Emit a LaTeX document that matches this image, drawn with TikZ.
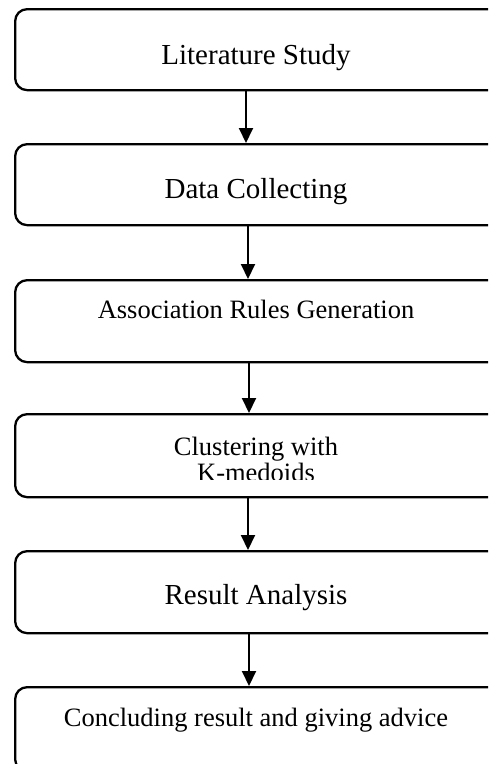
\documentclass[tikz,border=0pt]{standalone}
\usepackage{fontspec}
\setmainfont{Liberation Serif}
\usetikzlibrary{arrows.meta}
\begin{document}
\begin{tikzpicture}[x=1pt,y=-1pt,
  stagebox/.style={draw, line width=2.3pt, rounded corners=12pt,
    rectangle, minimum width=510pt, anchor=north west, inner sep=0pt},
  flow/.style={line width=2pt, -{Triangle[width=14pt,length=15pt]}},
  bigtext/.style={font=\fontsize{29}{33}\selectfont, anchor=base, inner sep=0pt},
  smalltext/.style={font=\fontsize{26.5}{26}\selectfont, anchor=base, inner sep=0pt, align=center}]
\useasboundingbox (0,0) rectangle (488,764);
\clip (0,0) rectangle (488,764);

% stage boxes (they run past the right and bottom edges of the page)
\node[stagebox, minimum height=81pt] (b1) at (14,8) {};
\node[stagebox, minimum height=81pt] (b2) at (14,143) {};
\node[stagebox, minimum height=82pt] (b3) at (14,279) {};
\node[stagebox, minimum height=83pt] (b4) at (14,413) {};
\node[stagebox, minimum height=82pt] (b5) at (14,550) {};
\node[stagebox, minimum height=84pt] (b6) at (14,686) {};

% stage labels
\node[bigtext] (t1) at (256,64) {Literature Study};
\node[bigtext] (t2) at (256,198) {Data Collecting};
\node[smalltext] (t3) at (256,318) {Association Rules Generation};
\begin{scope}
  \clip (0,0) rectangle (488,479);
  \node[smalltext] (t4) at (256,481) {Clustering with\\K-medoids};
\end{scope}
\node[bigtext] (t5) at (256,604) {Result Analysis};
\node[smalltext] (t6) at (256,726) {Concluding result and giving advice};

% flow between stages
\draw[flow] ([xshift=232pt]b1.south west) -- ([xshift=232pt]b2.north west);
\draw[flow] ([xshift=234pt]b2.south west) -- ([xshift=234pt]b3.north west);
\draw[flow] ([xshift=235pt]b3.south west) -- ([xshift=235pt]b4.north west);
\draw[flow] ([xshift=234pt]b4.south west) -- ([xshift=234pt]b5.north west);
\draw[flow] ([xshift=235pt]b5.south west) -- ([xshift=235pt]b6.north west);
\end{tikzpicture}
\end{document}
